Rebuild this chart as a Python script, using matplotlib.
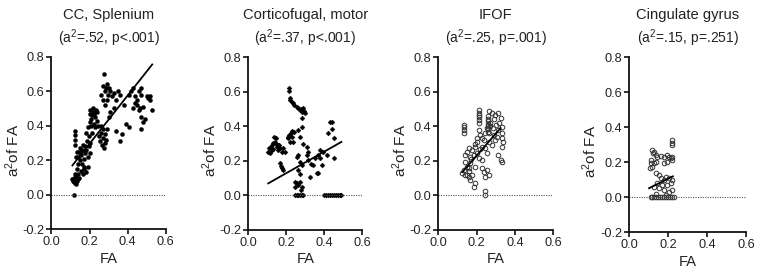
import numpy as np
import matplotlib as mpl
mpl.use('Agg')
from matplotlib import pyplot as plt

plt.rcParams['font.family'] = ['Liberation Sans', 'DejaVu Sans']
plt.rcParams['mathtext.default'] = 'regular'
plt.rcParams['axes.unicode_minus'] = False

## data (FA, a^2 of FA)

titles = ['CC, Splenium', 'Corticofugal, motor', 'IFOF', 'Cingulate gyrus']
stats = ['(a$^2$=.52, p<.001)', '(a$^2$=.37, p<.001)',
         '(a$^2$=.25, p=.001)', '(a$^2$=.15, p=.251)']

cc_pts = [(0.12, 0.0),
          (0.11, 0.09), (0.115, 0.08), (0.12, 0.075), (0.125, 0.07), (0.13, 0.065), (0.135, 0.08),
          (0.12, 0.10), (0.13, 0.11), (0.14, 0.09), (0.145, 0.10), (0.125, 0.12), (0.14, 0.12),
          (0.125, 0.37), (0.125, 0.345), (0.125, 0.315), (0.125, 0.29),
          (0.14, 0.22), (0.145, 0.25), (0.15, 0.27), (0.15, 0.20), (0.155, 0.23), (0.16, 0.18),
          (0.16, 0.26), (0.165, 0.29), (0.17, 0.15), (0.17, 0.21), (0.175, 0.24), (0.175, 0.28),
          (0.18, 0.13), (0.18, 0.26), (0.185, 0.31), (0.19, 0.22), (0.19, 0.16), (0.195, 0.28),
          (0.2, 0.24), (0.2, 0.30), (0.155, 0.14), (0.165, 0.12), (0.17, 0.16),
          (0.13, 0.22), (0.135, 0.25), (0.14, 0.18), (0.135, 0.15),
          (0.18, 0.36), (0.19, 0.39), (0.2, 0.42), (0.2, 0.47), (0.205, 0.49), (0.21, 0.44),
          (0.215, 0.46), (0.22, 0.48), (0.22, 0.50), (0.225, 0.47), (0.23, 0.45), (0.235, 0.49),
          (0.24, 0.48), (0.21, 0.40), (0.195, 0.34), (0.215, 0.36), (0.225, 0.41), (0.23, 0.39),
          (0.24, 0.43), (0.245, 0.40),
          (0.25, 0.34), (0.255, 0.31), (0.26, 0.36), (0.265, 0.29), (0.27, 0.33), (0.275, 0.27),
          (0.28, 0.30), (0.26, 0.40), (0.27, 0.38), (0.28, 0.35), (0.285, 0.32), (0.29, 0.38),
          (0.27, 0.63), (0.275, 0.70), (0.28, 0.60), (0.285, 0.62), (0.29, 0.64), (0.295, 0.58),
          (0.3, 0.62), (0.31, 0.60), (0.27, 0.55), (0.28, 0.52), (0.26, 0.58), (0.29, 0.55),
          (0.32, 0.57), (0.33, 0.59), (0.34, 0.55), (0.35, 0.60), (0.36, 0.58), (0.33, 0.50),
          (0.31, 0.48), (0.305, 0.45),
          (0.34, 0.37), (0.36, 0.31), (0.37, 0.35), (0.39, 0.41), (0.41, 0.39), (0.38, 0.52),
          (0.41, 0.58), (0.42, 0.60), (0.43, 0.62), (0.44, 0.57), (0.45, 0.55), (0.44, 0.53),
          (0.46, 0.60), (0.47, 0.62), (0.47, 0.58), (0.465, 0.50), (0.47, 0.45), (0.46, 0.49),
          (0.48, 0.51), (0.47, 0.38), (0.48, 0.42), (0.49, 0.44), (0.5, 0.57), (0.51, 0.56),
          (0.52, 0.57), (0.53, 0.49), (0.52, 0.55), (0.45, 0.52), (0.43, 0.50)]

cf_pts = [(0.214, 0.621), (0.214, 0.606), (0.219, 0.567), (0.228, 0.544), (0.242, 0.524),
          (0.254, 0.515), (0.263, 0.505), (0.277, 0.501), (0.289, 0.505), (0.295, 0.49),
          (0.284, 0.486), (0.298, 0.476), (0.222, 0.555), (0.234, 0.535), (0.27, 0.495),
          (0.105, 0.254), (0.109, 0.273), (0.114, 0.245), (0.123, 0.293), (0.131, 0.302),
          (0.137, 0.341), (0.144, 0.331), (0.149, 0.283), (0.158, 0.264), (0.167, 0.273),
          (0.175, 0.254), (0.184, 0.273), (0.193, 0.254), (0.123, 0.264), (0.14, 0.312),
          (0.154, 0.293), (0.118, 0.28), (0.132, 0.27), (0.162, 0.29), (0.146, 0.3),
          (0.207, 0.331), (0.214, 0.35), (0.225, 0.36), (0.232, 0.341), (0.242, 0.37),
          (0.237, 0.312), (0.219, 0.308), (0.26, 0.38), (0.272, 0.341), (0.281, 0.399),
          (0.281, 0.447), (0.228, 0.372), (0.21, 0.34),
          (0.167, 0.187), (0.175, 0.158), (0.184, 0.148), (0.172, 0.17),
          (0.263, 0.235), (0.254, 0.225), (0.272, 0.196), (0.281, 0.177), (0.307, 0.283),
          (0.316, 0.254), (0.307, 0.235), (0.312, 0.206), (0.263, 0.148), (0.272, 0.123),
          (0.325, 0.109), (0.342, 0.177), (0.36, 0.129), (0.368, 0.235), (0.377, 0.264),
          (0.377, 0.216), (0.395, 0.254), (0.389, 0.177), (0.421, 0.36), (0.43, 0.428),
          (0.439, 0.428), (0.442, 0.385), (0.453, 0.331), (0.453, 0.219), (0.412, 0.235),
          (0.351, 0.216), (0.29, 0.3), (0.33, 0.18), (0.365, 0.13),
          (0.246, 0.08), (0.254, 0.071), (0.263, 0.061), (0.272, 0.08), (0.246, 0.051),
          (0.277, 0.032), (0.281, 0.051),
          (0.246, 0.0), (0.254, 0.0), (0.263, 0.0), (0.272, 0.0), (0.281, 0.0), (0.29, 0.0),
          (0.40, 0.0), (0.41, 0.0), (0.42, 0.0), (0.43, 0.0), (0.44, 0.0), (0.45, 0.0),
          (0.46, 0.0), (0.47, 0.0), (0.48, 0.0), (0.49, 0.0)]

ifof_pts = [(0.132, 0.408), (0.132, 0.395), (0.132, 0.379), (0.132, 0.36),
            (0.21, 0.495), (0.21, 0.48), (0.21, 0.466), (0.21, 0.453), (0.21, 0.437), (0.21, 0.422),
            (0.26, 0.46), (0.26, 0.445), (0.26, 0.43), (0.26, 0.415), (0.26, 0.40), (0.26, 0.385),
            (0.26, 0.37), (0.265, 0.36), (0.255, 0.39), (0.27, 0.42), (0.27, 0.40),
            (0.267, 0.491), (0.281, 0.48), (0.298, 0.466), (0.312, 0.48), (0.325, 0.447),
            (0.316, 0.418), (0.333, 0.399), (0.33, 0.36), (0.333, 0.331), (0.337, 0.312),
            (0.333, 0.283), (0.312, 0.235), (0.325, 0.206), (0.333, 0.196), (0.307, 0.341),
            (0.298, 0.322), (0.29, 0.44), (0.3, 0.41), (0.285, 0.39), (0.31, 0.38),
            (0.21, 0.379), (0.219, 0.35), (0.228, 0.331), (0.246, 0.36), (0.202, 0.312),
            (0.193, 0.283), (0.175, 0.264), (0.158, 0.273), (0.149, 0.254), (0.14, 0.235),
            (0.167, 0.225), (0.184, 0.235), (0.202, 0.244), (0.228, 0.283), (0.246, 0.273),
            (0.263, 0.312), (0.254, 0.244), (0.21, 0.215), (0.14, 0.196), (0.149, 0.167),
            (0.132, 0.148), (0.123, 0.129), (0.14, 0.119), (0.158, 0.109), (0.175, 0.119),
            (0.167, 0.09), (0.184, 0.051), (0.193, 0.071), (0.228, 0.157), (0.237, 0.138),
            (0.254, 0.148), (0.246, 0.109), (0.263, 0.119), (0.228, 0.206), (0.167, 0.186),
            (0.158, 0.16), (0.193, 0.167), (0.15, 0.12), (0.16, 0.14), (0.17, 0.21),
            (0.19, 0.3), (0.2, 0.33), (0.24, 0.32), (0.28, 0.29), (0.29, 0.35), (0.22, 0.27),
            (0.242, 0.026), (0.242, 0.0)]

cing_pts = [(0.219, 0.328), (0.219, 0.312), (0.222, 0.299),
            (0.12, 0.27), (0.128, 0.261), (0.123, 0.251), (0.137, 0.242), (0.145, 0.232),
            (0.162, 0.236), (0.18, 0.232), (0.197, 0.242), (0.205, 0.229), (0.214, 0.223),
            (0.222, 0.232), (0.219, 0.213), (0.197, 0.204), (0.18, 0.194),
            (0.111, 0.213), (0.111, 0.194), (0.12, 0.175), (0.106, 0.166), (0.128, 0.194),
            (0.137, 0.204), (0.137, 0.137), (0.154, 0.128), (0.162, 0.109), (0.18, 0.099),
            (0.188, 0.118), (0.205, 0.109), (0.222, 0.099), (0.214, 0.08), (0.197, 0.071),
            (0.171, 0.071), (0.145, 0.08), (0.154, 0.052), (0.18, 0.042), (0.205, 0.032),
            (0.222, 0.042), (0.128, 0.061), (0.14, 0.02), (0.19, 0.015),
            (0.111, 0.0), (0.12, 0.0), (0.13, 0.0), (0.14, 0.0), (0.15, 0.0), (0.16, 0.0),
            (0.17, 0.0), (0.18, 0.0), (0.19, 0.0), (0.20, 0.0), (0.21, 0.0), (0.22, 0.0),
            (0.23, 0.0)]

# regression line end points as drawn in the figure
fit_x = [(0.11, 0.53), (0.105, 0.49), (0.125, 0.325), (0.103, 0.225)]
fit_y = [(0.17, 0.755), (0.07, 0.31), (0.135, 0.39), (0.052, 0.12)]

xticks = [0.0, 0.2, 0.4, 0.6]
yticks = [-0.2, 0.0, 0.2, 0.4, 0.6, 0.8]

all_pts = [cc_pts, cf_pts, ifof_pts, cing_pts]
filled = [True, True, False, False]
markers = ['o', 'D', 'o', 'o']

## layout (pixels of a 764x276 image)
W, H = 764., 276.
lefts = [51.5, 248.3, 438.3, 629.0]
widths = [114., 114., 115., 117.]
bottoms = [229.3, 230.0, 230.0, 232.3]
tops = [56.7, 57.3, 57.3, 57.3]

fig = plt.figure(figsize=(7.64, 2.76), dpi=100)
txt = '#222222'

for i in range(4):
    ax = fig.add_axes([lefts[i] / W, 1 - bottoms[i] / H, widths[i] / W, (bottoms[i] - tops[i]) / H])
    pts = np.array(all_pts[i])
    if filled[i]:
        ax.plot(pts[:, 0], pts[:, 1], markers[i], ms=2.9 if i == 0 else 2.5, color='black',
                mec='black', mew=0.3, clip_on=False)
    else:
        ax.plot(pts[:, 0], pts[:, 1], 'o', ms=3.3, mfc='none', mec='#333333', mew=0.7,
                clip_on=False)
    ax.plot(fit_x[i], fit_y[i], color='black', lw=1.3)
    ax.axhline(0, color='#555555', lw=0.8, ls=(0, (1, 1.2)))

    ax.set_xlim(0, 0.6)
    ax.set_ylim(-0.2, 0.8)
    ax.set_xticks(xticks)
    ax.set_yticks(yticks)
    ax.set_xticklabels(['%.1f' % v for v in xticks])
    ax.set_yticklabels(['%.1f' % v for v in yticks])
    for s in ['top', 'right']:
        ax.spines[s].set_visible(False)
    for s in ['left', 'bottom']:
        ax.spines[s].set_linewidth(1.3)
        ax.spines[s].set_color('#111111')
    ax.tick_params(direction='out', length=3.5, width=1.2, color='#111111',
                   labelsize=9.2, labelcolor=txt, pad=1.5)

    ax.set_xlabel('FA', fontsize=10.5, color=txt)
    ax.xaxis.set_label_coords(0.5, -0.13)
    ax.set_ylabel('a$^2$of FA', fontsize=11, color=txt)
    ax.yaxis.set_label_coords(-0.255, 0.46)

    ax.text(0.5, 1 + (tops[i] - 15) / (bottoms[i] - tops[i]), titles[i], transform=ax.transAxes,
            ha='center', va='center', fontsize=10.6, color=txt)
    ax.text(0.5, 1 + (tops[i] - 38) / (bottoms[i] - tops[i]), stats[i], transform=ax.transAxes,
            ha='center', va='center', fontsize=10, color=txt)

fig.savefig('out.png', dpi=100)
